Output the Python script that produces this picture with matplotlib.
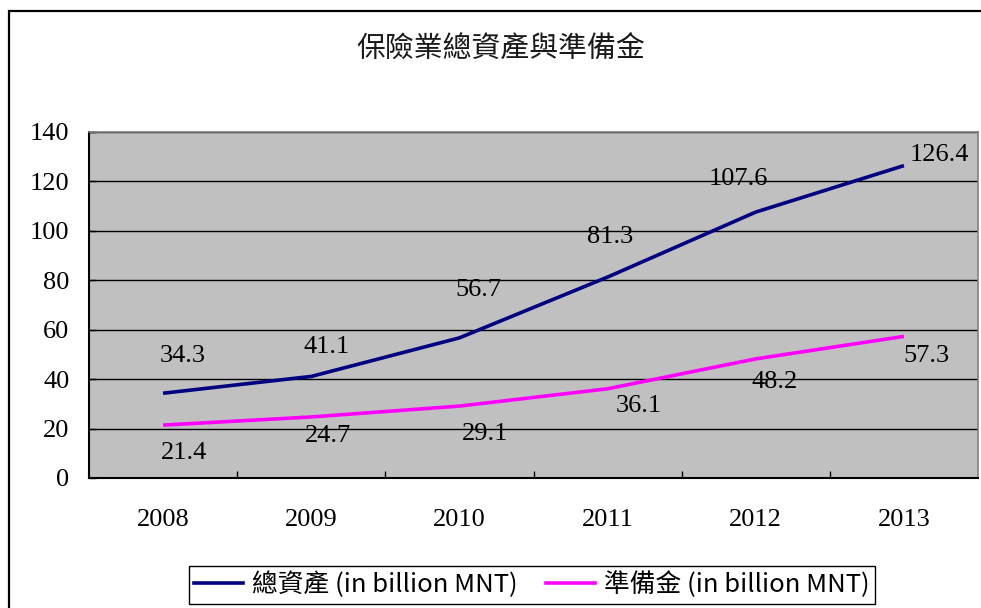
import matplotlib
matplotlib.use('Agg')
import matplotlib.pyplot as plt
from matplotlib.lines import Line2D
from matplotlib.patches import Rectangle

# ---- data ----
years = ['2008', '2009', '2010', '2011', '2012', '2013']
total_assets = [34.3, 41.1, 56.7, 81.3, 107.6, 126.4]
reserves = [21.4, 24.7, 29.1, 36.1, 48.2, 57.3]
y_ticks = [0, 20, 40, 60, 80, 100, 120, 140]
title = '保險業總資產與準備金'
series_names = ['總資產 (in billion MNT)', '準備金 (in billion MNT)']

# ---- styles / label placement (pixel offsets) ----
assets_off = [(20, -37), (15, -29), (19, -48), (3, -40), (-17, -33), (35, -11)]
reserve_off = [(21, 28), (17, 19), (26, 28), (31, 17), (19, 23), (23, 20)]
navy = '#000080'
magenta = '#FF00FF'
serif = 'Liberation Serif'
cjk = ['Noto Sans CJK TC', 'DejaVu Sans']

W, H = 981, 608
fig = plt.figure(figsize=(W / 100, H / 100), dpi=100)
fig.patch.set_facecolor('white')

# outer chart border (right/bottom edges cut off in reference)
fig.patches.append(Rectangle((9 / W, -0.2), 1.5, 1 - 11 / H + 0.2,
                             transform=fig.transFigure, fill=False,
                             lw=1.6, ec='black'))

ax = fig.add_axes([89 / W, 1 - 478 / H, (978 - 89) / W, (478 - 132) / H])
ax.set_facecolor('#C0C0C0')

x = list(range(len(years)))
ax.plot(x, total_assets, color=navy, lw=2.6, solid_capstyle='butt', zorder=3)
ax.plot(x, reserves, color=magenta, lw=2.6, solid_capstyle='butt', zorder=3)

for xi, v, (dx, dy) in zip(x, total_assets, assets_off):
    ax.annotate(f'{v:.1f}', (xi, v), xytext=(dx, -dy), textcoords='offset pixels',
                ha='center', va='center', fontsize=19, family=serif,
                color='black', zorder=4)
for xi, v, (dx, dy) in zip(x, reserves, reserve_off):
    ax.annotate(f'{v:.1f}', (xi, v), xytext=(dx, -dy), textcoords='offset pixels',
                ha='center', va='center', fontsize=19, family=serif,
                color='black', zorder=4)

ax.set_xlim(-0.5, len(years) - 0.5)
ax.set_ylim(y_ticks[0], y_ticks[-1])
ax.set_yticks(y_ticks)
ax.set_yticklabels([str(t) for t in y_ticks], fontsize=19, family=serif)
ax.set_xticks(x)
ax.set_xticklabels(years, fontsize=19, family=serif)
ax.set_xticks([i + 0.5 for i in x[:-1]], minor=True)

ax.tick_params(axis='x', which='major', length=0, pad=22)
ax.tick_params(axis='x', which='minor', direction='in', length=5, width=1, color='black')
ax.tick_params(axis='y', which='major', direction='in', length=5, width=1,
               color='black', pad=14)

ax.yaxis.grid(True, color='black', lw=1)
ax.set_axisbelow(True)

for s in ['left', 'bottom']:
    ax.spines[s].set_color('black')
    ax.spines[s].set_linewidth(1.5)
for s in ['top', 'right']:
    ax.spines[s].set_color('#808080')
    ax.spines[s].set_linewidth(1.2)

fig.text(501 / W, 1 - 50 / H, title, ha='center', va='center',
         fontsize=20.8, family=cjk, color='#1a1a1a')

handles = [Line2D([], [], color=navy, lw=2.6), Line2D([], [], color=magenta, lw=2.6)]
leg = fig.legend(handles, series_names, loc='center',
                 bbox_to_anchor=(532 / W, 1 - 585 / H), ncol=2,
                 prop={'family': cjk, 'size': 18.5}, frameon=True, fancybox=False,
                 framealpha=1, edgecolor='black', handlelength=1.9,
                 handletextpad=0.35, columnspacing=1.1, borderpad=0.2,
                 borderaxespad=0)
leg.get_frame().set_linewidth(1.0)

fig.savefig('out.png', dpi=100)
